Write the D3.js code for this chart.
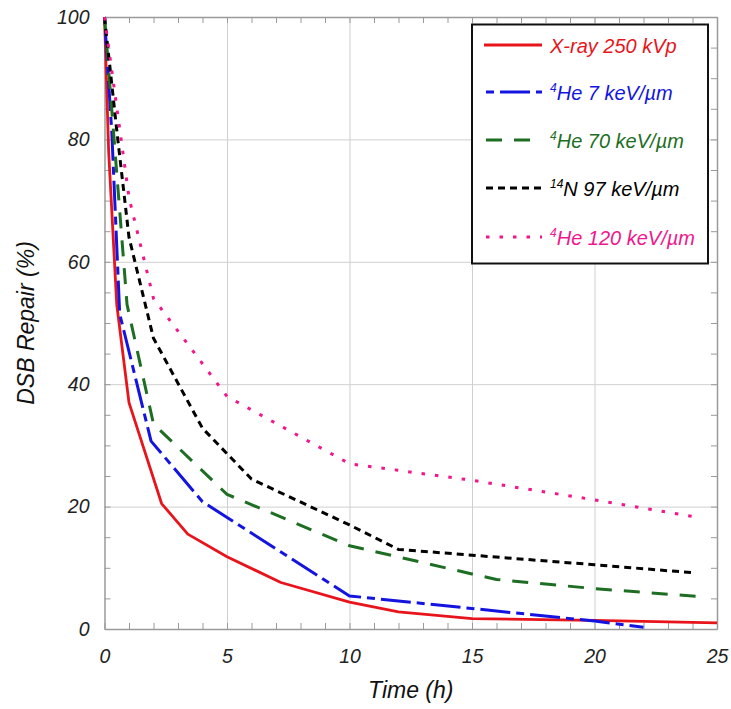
<!DOCTYPE html>
<html>
<head>
<meta charset="utf-8">
<script src="https://cdn.jsdelivr.net/npm/d3@7"></script>
<style>
  html, body { margin: 0; padding: 0; background: #fff; }
  svg { display: block; font-family: "Liberation Sans", Arial, sans-serif; }
</style>
</head>
<body>
<svg id="chart" width="731" height="709"></svg>
<script>
// DSB repair kinetics: percentage of unrepaired double-strand breaks vs. time
const timeXray   = [0, 0.17, 0.5, 1, 2.33, 3.4, 5, 7.2, 10, 12, 15, 20, 25];
const repairXray = [100, 78, 53, 37, 20.5, 15.5, 11.8, 7.6, 4.4, 2.8, 1.7, 1.4, 1.0];

const timeHe7    = [0, 0.3, 0.62, 1.9, 4, 10, 20, 22];
const repairHe7  = [100, 81, 51.5, 30.7, 20.8, 5.4, 1.3, 0.3];

const timeHe70   = [0, 0.92, 2, 5, 10, 15, 16, 20, 24.3];
const repairHe70 = [100, 53, 33.5, 22, 13.6, 9, 8.1, 6.6, 5.3];

const timeN97    = [0, 0.5, 1, 2, 4, 6, 10, 12, 20, 24];
const repairN97  = [100, 81.5, 64, 47.5, 32.8, 24.5, 17, 13, 10.5, 9.2];

const timeHe120   = [0, 1, 2, 5, 10, 15, 20, 24];
const repairHe120 = [100, 70.5, 54, 38, 27, 24.3, 21.1, 18.4];

const seriesNames = ["X-ray 250 kVp", "He 7 keV/\u00b5m", "He 70 keV/\u00b5m", "N 97 keV/\u00b5m", "He 120 keV/\u00b5m"];
const seriesSup   = ["", "4", "4", "14", "4"];

const xTicks = [0, 5, 10, 15, 20, 25];
const yTicks = [0, 20, 40, 60, 80, 100];

const series = [
  { name: seriesNames[0], sup: seriesSup[0], t: timeXray,  v: repairXray,  color: "#e8141c", dash: null },
  { name: seriesNames[1], sup: seriesSup[1], t: timeHe7,   v: repairHe7,   color: "#1414e0", dash: "8,6,30,6" },
  { name: seriesNames[2], sup: seriesSup[2], t: timeHe70,  v: repairHe70,  color: "#1d6e23", dash: "16,12" },
  { name: seriesNames[3], sup: seriesSup[3], t: timeN97,   v: repairN97,   color: "#000000", dash: "7,5" },
  { name: seriesNames[4], sup: seriesSup[4], t: timeHe120, v: repairHe120, color: "#f0168c", dash: "3.5,10" }
];

const svg = d3.select("#chart");
const x = d3.scaleLinear().domain([0, 25]).range([104.5, 717]);
const y = d3.scaleLinear().domain([0, 100]).range([629, 17]);
const x0 = x.range()[0], x1 = x.range()[1];
const y0 = y.range()[0], y1 = y.range()[1];

// gridlines at major ticks
const grid = svg.append("g").attr("class", "grid");
grid.append("g")
  .attr("transform", `translate(0,${y0})`)
  .call(d3.axisBottom(x).tickValues(xTicks.slice(1, -1)).tickSize(-(y0 - y1)).tickFormat(""))
  .call(g => g.select(".domain").remove())
  .call(g => g.selectAll("line").attr("stroke", "#cfcfcf").attr("stroke-width", 1));
grid.append("g")
  .attr("transform", `translate(${x0},0)`)
  .call(d3.axisLeft(y).tickValues(yTicks.slice(1, -1)).tickSize(-(x1 - x0)).tickFormat(""))
  .call(g => g.select(".domain").remove())
  .call(g => g.selectAll("line").attr("stroke", "#cfcfcf").attr("stroke-width", 1));

// frame with inward minor ticks on all four sides
const minorX = d3.range(0, 26, 1);
const minorY = d3.range(0, 101, 5);
const tickColor = "#9a9a9a";
function styleAxis(g) {
  g.select(".domain").attr("stroke", tickColor).attr("stroke-width", 1.5);
  g.selectAll(".tick line").attr("stroke", tickColor).attr("stroke-width", 1);
}
svg.append("g").attr("transform", `translate(0,${y0})`)
  .call(d3.axisBottom(x).tickValues(minorX).tickSizeInner(-6).tickSizeOuter(0).tickFormat(""))
  .call(styleAxis);
svg.append("g").attr("transform", `translate(0,${y1})`)
  .call(d3.axisTop(x).tickValues(minorX).tickSizeInner(-6).tickSizeOuter(0).tickFormat(""))
  .call(styleAxis);
svg.append("g").attr("transform", `translate(${x0},0)`)
  .call(d3.axisLeft(y).tickValues(minorY).tickSizeInner(-6).tickSizeOuter(0).tickFormat(""))
  .call(styleAxis);
svg.append("g").attr("transform", `translate(${x1},0)`)
  .call(d3.axisRight(y).tickValues(minorY).tickSizeInner(-6).tickSizeOuter(0).tickFormat(""))
  .call(styleAxis);

// tick labels
svg.append("g").attr("transform", `translate(0,${y0})`)
  .call(d3.axisBottom(x).tickValues(xTicks).tickSize(0).tickPadding(20))
  .call(g => g.select(".domain").remove())
  .call(g => g.selectAll("text").attr("font-size", 19.5).attr("font-style", "italic")
    .attr("fill", "#222").attr("font-family", "Liberation Sans, Arial, sans-serif"));
svg.append("g").attr("transform", `translate(${x0},0)`)
  .call(d3.axisLeft(y).tickValues(yTicks).tickSize(0).tickPadding(15))
  .call(g => g.select(".domain").remove())
  .call(g => g.selectAll("text").attr("font-size", 19.5).attr("font-style", "italic")
    .attr("fill", "#222").attr("font-family", "Liberation Sans, Arial, sans-serif"));

// axis titles
svg.append("text")
  .attr("x", (x0 + x1) / 2).attr("y", 698)
  .attr("text-anchor", "middle")
  .attr("font-size", 23).attr("font-style", "italic").attr("fill", "#111")
  .text("Time (h)");
svg.append("text")
  .attr("transform", `translate(34,${(y0 + y1) / 2}) rotate(-90)`)
  .attr("text-anchor", "middle")
  .attr("font-size", 23).attr("font-style", "italic").attr("fill", "#111")
  .text("DSB Repair (%)");

// curves
const line = d3.line().x(d => x(d[0])).y(d => y(d[1]));
const curves = svg.append("g");
series.forEach(s => {
  const pts = s.t.map((t, i) => [t, s.v[i]]);
  curves.append("path")
    .datum(pts)
    .attr("d", line)
    .attr("fill", "none")
    .attr("stroke", s.color)
    .attr("stroke-width", s.dash ? 3 : 2.8)
    .attr("stroke-linejoin", "round")
    .attr("stroke-dasharray", s.dash);
});

// legend
const legend = svg.append("g");
legend.append("rect")
  .attr("x", 472).attr("y", 24.5).attr("width", 236).attr("height", 239)
  .attr("fill", "#fff").attr("stroke", "#111").attr("stroke-width", 2);
const rowY = [45, 92, 140, 188, 237];
series.forEach((s, i) => {
  const ry = rowY[i];
  legend.append("line")
    .attr("x1", s.dash ? 486 : 484).attr("x2", 542)
    .attr("y1", ry).attr("y2", ry)
    .attr("stroke", s.color).attr("stroke-width", 3)
    .attr("stroke-dasharray", s.dash);
  const t = legend.append("text")
    .attr("x", 550).attr("y", ry + 7.5)
    .attr("font-size", 20).attr("font-style", "italic").attr("fill", s.color);
  if (s.sup) {
    t.append("tspan").attr("font-size", 12).attr("dy", -8).text(s.sup);
    t.append("tspan").attr("dy", 8).text(s.name);
  } else {
    t.text(s.name);
  }
});
</script>
</body>
</html>
